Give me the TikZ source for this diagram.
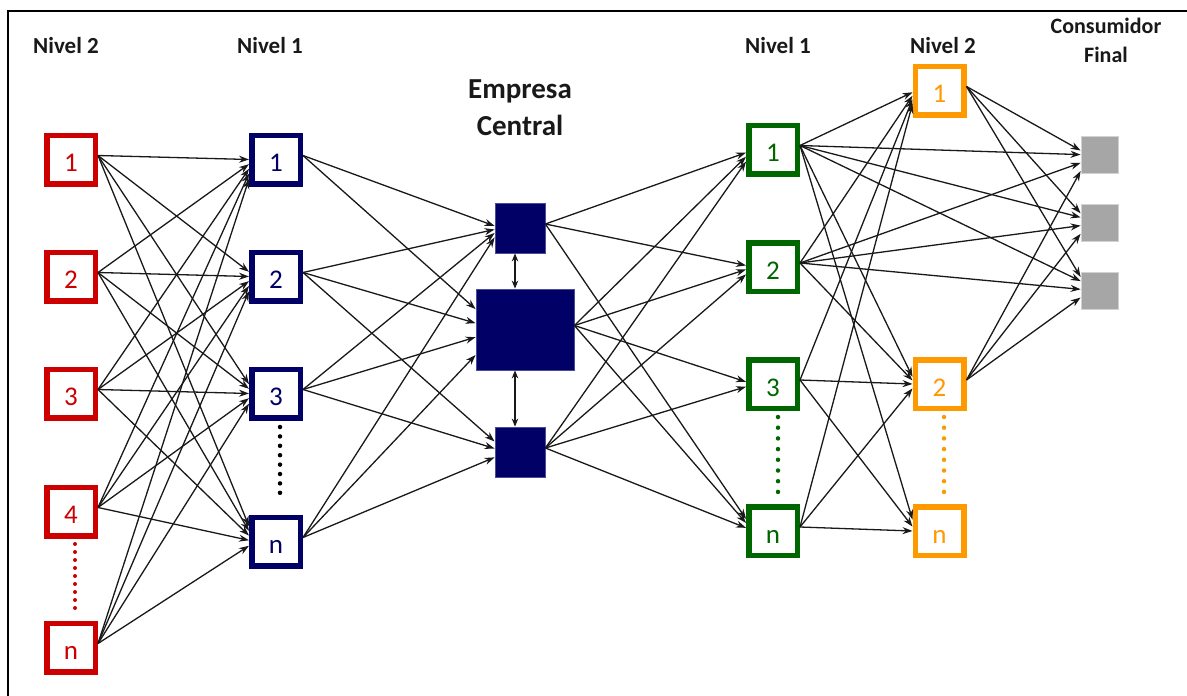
\documentclass[tikz,border=0pt]{standalone}
\usepackage{fontspec}
\setmainfont{Carlito}
\usetikzlibrary{arrows.meta,calc}

\definecolor{tierred}{RGB}{204,0,0}
\definecolor{hubnavy}{RGB}{0,0,102}
\definecolor{tiergreen}{RGB}{0,102,0}
\definecolor{tierorange}{RGB}{255,153,0}
\definecolor{custgray}{RGB}{166,166,166}

% connector: from the upper part of the source's right side to the target's
% left side, the tip moved slightly toward the source's height (factor #1)
\newcommand\conn[3][0.04]{%
  \draw[link] ([yshift=4pt]#2.east) -- ($(#3.west)!#1!(#3.west |- #2.east)$);}

\begin{document}
\begin{tikzpicture}[x=1pt,y=-1pt,
  tier/.style={draw=#1, line width=5.5pt, fill=white, minimum size=48.5pt,
    inner sep=0pt, text=#1, font=\fontsize{27}{27}\selectfont,
    text height=24pt, text depth=0pt},
  hub/.style={fill=hubnavy, draw=hubnavy!70!white, line width=0.8pt, inner sep=0pt},
  cust/.style={fill=custgray, draw=custgray!50!white, line width=0.8pt,
    minimum size=37pt, inner sep=0pt},
  head/.style={font=\bfseries\fontsize{23}{28}\selectfont, align=center, text=black!90},
  link/.style={line width=1.3pt, black!90, -{Stealth[length=10pt,width=7pt]}},
  both/.style={line width=1.4pt, black!90, {Stealth[length=8pt,width=6.5pt]}-{Stealth[length=8pt,width=6.5pt]}},
  dotrow/.style={draw=#1, line width=4.5pt, line cap=round, dash pattern=on 0pt off 9.4pt},
]
\fill[white] (0,0) rectangle (1187,696);
\useasboundingbox (0,0) rectangle (1187,696);
\draw[line width=2pt] (8,696) -- (8,11) -- (1187,11);

% column headings
\node[head] (h1) at (66,46) {Nivel 2};
\node[head] (h2) at (270,46) {Nivel 1};
\node[head, font=\bfseries\fontsize{29}{37}\selectfont] (h3) at (520,108) {Empresa\\Central};
\node[head] (h4) at (778,46) {Nivel 1};
\node[head] (h5) at (943,46) {Nivel 2};
\node[head, font=\bfseries\fontsize{22}{29}\selectfont] (h6) at (1106,40) {Consumidor\\Final};

% second-tier suppliers
\node[tier=tierred] (r1) at (71,159.5) {1};
\node[tier=tierred] (r2) at (71,276.5) {2};
\node[tier=tierred] (r3) at (71,393.5) {3};
\node[tier=tierred] (r4) at (71,511.5) {4};
\node[tier=tierred] (rn) at (71,647.5) {n};

% first-tier suppliers
\node[tier=hubnavy] (b1) at (276,159.5) {1};
\node[tier=hubnavy] (b2) at (276,276.5) {2};
\node[tier=hubnavy] (b3) at (276,393.5) {3};
\node[tier=hubnavy] (bn) at (276,541.5) {n};

% focal company
\node[hub, minimum width=50pt, minimum height=50pt] (ct) at (520,228) {};
\node[hub, minimum width=98pt, minimum height=81pt] (cm) at (525,329.5) {};
\node[hub, minimum width=50pt, minimum height=50pt] (cb) at (520,452) {};

% first-tier customers
\node[tier=tiergreen] (g1) at (773,149.5) {1};
\node[tier=tiergreen] (g2) at (773,267) {2};
\node[tier=tiergreen] (g3) at (773,384) {3};
\node[tier=tiergreen] (gn) at (773,531) {n};

% second-tier customers
\node[tier=tierorange] (o1) at (939.5,90.5) {1};
\node[tier=tierorange] (o2) at (939.5,384) {2};
\node[tier=tierorange] (on) at (939.5,531) {n};

% final consumers
\node[cust] (s1) at (1099.5,155) {};
\node[cust] (s2) at (1099.5,222.5) {};
\node[cust] (s3) at (1099.5,291) {};

% "and so on" dots
\draw[dotrow=tierred, line width=4pt, dash pattern=on 0pt off 8pt]
  ($(r4.south)+(4,5.5)$) -- ($(rn.north)+(4,-12.5)$);
\draw[dotrow=black] ($(b3.south)+(4,6.5)$) -- ($(bn.north)+(4,-12.5)$);
\draw[dotrow=tiergreen, dash pattern=on 0pt off 10.7pt]
  ($(g3.south)+(5,6)$) -- ($(gn.north)+(5,-12)$);
\draw[dotrow=tierorange, dash pattern=on 0pt off 10.7pt]
  ($(o2.south)+(4.5,6)$) -- ($(on.north)+(4.5,-12)$);

% links inside the focal company
\draw[both] ($(ct.south)+(-5,0)$) -- ($(ct.south |- cm.north)+(-5,0)$);
\draw[both] ($(cb.north |- cm.south)+(-5,0)$) -- ($(cb.north)+(-5,0)$);

% second tier -> first tier suppliers
\foreach \s in {r1,r2,r3,r4,rn}{\foreach \t in {b1,b2,b3,bn}{\conn[0.04]{\s}{\t}}}

% first tier suppliers -> focal company
\conn[0.03]{b1}{ct}
\conn[0.12]{b1}{cm}
\foreach \s in {b2,b3,bn}{\conn[0.03]{\s}{ct}\conn[0.12]{\s}{cm}\conn[0.06]{\s}{cb}}

% focal company -> first tier customers
\foreach \t in {g1,g2,gn}{\conn{ct}{\t}}
\foreach \t in {g1,g2,g3,gn}{\conn{cm}{\t}\conn{cb}{\t}}

% first tier -> second tier customers
\foreach \t in {o1,o2,on}{\conn[0.03]{g1}{\t}}
\conn[0.03]{g2}{o1}
\conn[0.03]{g2}{o2}
\foreach \s in {g3,gn}{\foreach \t in {o1,o2,on}{\conn[0.03]{\s}{\t}}}

% customers -> final consumers
\foreach \s in {g1,g2,o1,o2}{\foreach \t in {s1,s2,s3}{\conn[0.07]{\s}{\t}}}
\end{tikzpicture}
\end{document}
